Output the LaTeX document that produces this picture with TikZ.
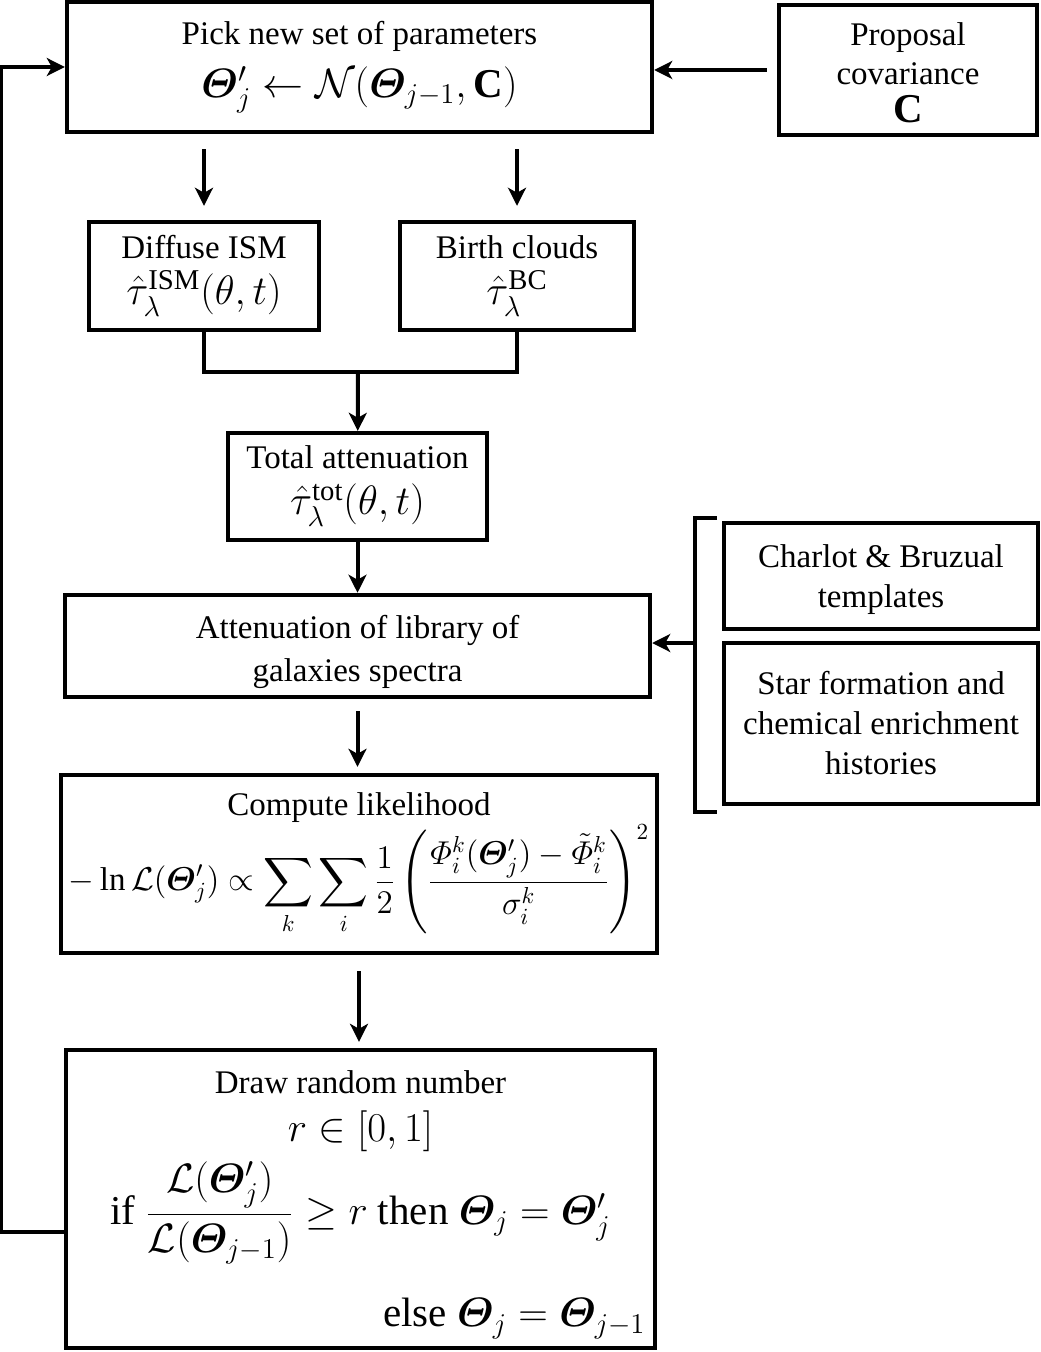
\RequirePackage{fix-cm}
\documentclass[tikz,border=0pt]{standalone}
\usepackage{amsmath}
\usepackage{bm}
\usepackage{fontspec}
\setmainfont{Liberation Serif}
\usetikzlibrary{arrows.meta, positioning}

\newcommand{\bTheta}{\bm{\varTheta}}
\newcommand{\bigmath}{\fontsize{20.5}{24}\selectfont}
\newcommand{\sumsize}{\fontsize{16.5}{19}\selectfont}

\begin{document}
\begin{tikzpicture}[
    x=0.5pt, y=-0.5pt,
    box/.style={draw, line width=2.2pt, align=center, inner sep=4pt, font=\fontsize{16.5}{20}\selectfont},
    arrow/.style={-{Stealth[length=9pt, width=9pt, inset=2.5pt]}, line width=2pt},
    link/.style={line width=2pt}
]
\useasboundingbox (0,0) rectangle (1040,1352);

% Proposal step
\node[box, minimum width=292.5pt, minimum height=65pt] (pick) at (359.5,67)
    {Pick new set of parameters\\[6.5pt]
     {\bigmath $\bTheta'_j \leftarrow \mathcal{N}(\bTheta_{j-1},\mathbf{C})$}};
\node[box, minimum width=129pt, minimum height=65pt] (prop) at (908,70)
    {\rule{0pt}{14.5pt}Proposal\\[-0.5pt]covariance\\[-1pt]{\bigmath $\mathbf{C}$}};

% Dust attenuation
\node[box, minimum width=115pt, minimum height=54pt] (diffuse) at (204,276)
    {Diffuse ISM\\[3pt]{\bigmath $\hat{\tau}_\lambda^{\mathrm{ISM}}(\theta,t)$}};
\node[box, minimum width=117pt, minimum height=54pt] (birth) at (517,276)
    {Birth clouds\\[3pt]{\bigmath $\hat{\tau}_\lambda^{\mathrm{BC}}$}};
\node[box, minimum width=129.5pt, minimum height=53.5pt] (total) at (357.5,486.5)
    {Total attenuation\\[3pt]{\bigmath $\hat{\tau}_\lambda^{\mathrm{tot}}(\theta,t)$}};
\node[box, minimum width=292.5pt, minimum height=49.5pt] (atten) at (357.5,646)
    {\rule{0pt}{18pt}Attenuation of library of\\[1.5pt]galaxies spectra};

% Model inputs
\node[box, minimum width=157pt, minimum height=53pt] (charlot) at (881,576)
    {\rule{0pt}{15pt}Charlot \& Bruzual\\templates};
\node[box, minimum width=157pt, minimum height=80.5pt] (star) at (881,723.5)
    {Star formation and\\chemical enrichment\\histories};

% Likelihood and acceptance
\node[box, minimum width=294pt, minimum height=89pt] (comp) at (359,864)
    {Compute likelihood\\
     {\sumsize $\displaystyle -\ln\mathcal{L}(\bTheta'_j)\propto\sum_k\sum_i\frac{1}{2}
      \left(\frac{\varPhi_i^k(\bTheta'_j)-\tilde{\varPhi}_i^k}{\sigma_i^k}\right)^{2}$}};
\node[box, minimum width=294.5pt, minimum height=149pt] (draw) at (360.5,1199)
    {\rule{0pt}{17pt}Draw random number\\[4pt]
     {\bigmath $r\in[0,1]$}\\[4pt]
     {\bigmath if $\dfrac{\mathcal{L}(\bTheta'_j)}{\mathcal{L}(\bTheta_{j-1})}\geq r$ then $\bTheta_j=\bTheta'_j$}\\[16pt]
     \makebox[285pt][r]{\bigmath else $\bTheta_j=\bTheta_{j-1}$}};

% Connectors
\draw[arrow, shorten <=5pt] (prop.west) -- (prop.west -| pick.east);
\draw[arrow, shorten <=7.5pt, shorten >=7pt] (pick.south -| diffuse) -- (diffuse);
\draw[arrow, shorten <=7.5pt, shorten >=7pt] (pick.south -| birth) -- (birth);
\coordinate (merge) at (358,372);
\draw[link] (diffuse.south) |- (merge) -| (birth.south);
\draw[arrow] (merge) -- (total);
\draw[arrow] (total) -- (atten);
\draw[arrow, shorten <=6pt, shorten >=3pt] (atten.south) -- (atten.south |- comp.north);
\draw[arrow, shorten <=8pt, shorten >=3pt] (comp.south) -- (comp.south |- draw.north);

% Bracket round the inputs
\coordinate (brtop) at (717,518);
\coordinate (brbot) at (717,812);
\coordinate (brmid) at (695,643);
\draw[link] (brtop) -| (brmid) |- (brbot);
\draw[arrow] (brmid) -- (brmid -| atten.east);

% Back to the start
\draw[arrow] ([yshift=-16.5pt]draw.west) -- ++(-63,0) |- (pick.west);

\end{tikzpicture}
\end{document}
